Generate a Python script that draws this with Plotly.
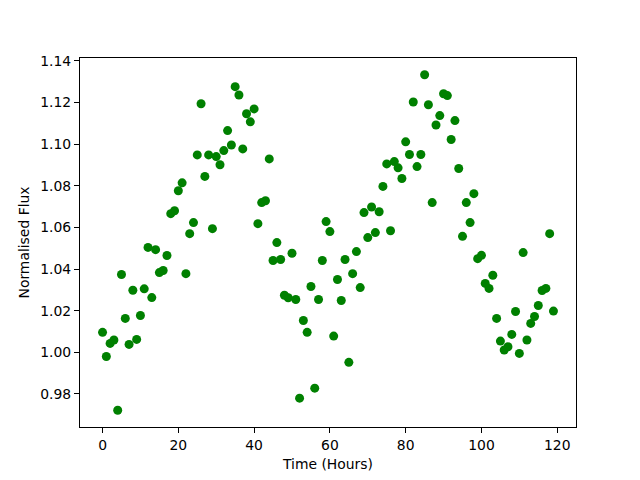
import plotly.graph_objects as go

time_hours = list(range(120))
flux = [
    1.0096, 0.9980, 1.0043, 1.0059, 0.9722, 1.0374, 1.0163, 1.0038, 1.0298, 1.0062,
    1.0177, 1.0305, 1.0504, 1.0263, 1.0493, 1.0383, 1.0393, 1.0465, 1.0666, 1.0680,
    1.0776, 1.0814, 1.0378, 1.0570, 1.0623, 1.0948, 1.1194, 1.0845, 1.0948, 1.0594,
    1.0940, 1.0901, 1.0969, 1.1065, 1.0996, 1.1276, 1.1236, 1.0977, 1.1146, 1.1107,
    1.1169, 1.0618, 1.0719, 1.0728, 1.0929, 1.0441, 1.0527, 1.0446, 1.0274, 1.0262,
    1.0476, 1.0254, 0.9780, 1.0153, 1.0096, 1.0316, 0.9828, 1.0254, 1.0441, 1.0628,
    1.0580, 1.0078, 1.0350, 1.0249, 1.0446, 0.9952, 1.0378, 1.0484, 1.0311, 1.0671,
    1.0551, 1.0698, 1.0575, 1.0675, 1.0797, 1.0905, 1.0584, 1.0916, 1.0886, 1.0835,
    1.1011, 1.0950, 1.1202, 1.0892, 1.0950, 1.1333, 1.1189, 1.0719, 1.1092, 1.1137,
    1.1242, 1.1233, 1.1022, 1.1113, 1.0883, 1.0557, 1.0719, 1.0623, 1.0762, 1.0450,
    1.0466, 1.0331, 1.0307, 1.0370, 1.0163, 1.0054, 1.0011, 1.0027, 1.0086, 1.0196,
    0.9995, 1.0479, 1.0059, 1.0139, 1.0172, 1.0225, 1.0297, 1.0307, 1.0570, 1.0198,
]

x_ticks = [0, 20, 40, 60, 80, 100, 120]
y_ticks = [0.98, 1.00, 1.02, 1.04, 1.06, 1.08, 1.10, 1.12, 1.14]

xmin, xmax = min(time_hours), max(time_hours)
ymin, ymax = min(flux), max(flux)
xm = 0.05 * (xmax - xmin)
ym = 0.05 * (ymax - ymin)

fig = go.Figure()
fig.add_trace(go.Scatter(
    x=time_hours, y=flux, mode="markers",
    marker=dict(color="#008000", size=9, line=dict(width=0)),
    showlegend=False,
))

font = dict(family="DejaVu Sans", size=13.9, color="black")
axis_common = dict(
    showgrid=False, zeroline=False, showline=True, linecolor="black", linewidth=1,
    mirror=True, ticks="outside", ticklen=5, tickwidth=1, tickcolor="black",
    tickfont=font,
)
fig.update_layout(
    width=640, height=480,
    margin=dict(l=72, r=72, t=50, b=61),
    paper_bgcolor="white", plot_bgcolor="white",
    font=font,
    xaxis=dict(range=[xmin - xm, xmax + xm], tickvals=x_ticks,
               ticktext=[str(v) for v in x_ticks],
               title=dict(text="Time (Hours)", font=font, standoff=7), **axis_common),
    yaxis=dict(range=[ymin - ym, ymax + ym], tickvals=y_ticks,
               ticktext=[f"{v:.2f}" for v in y_ticks],
               title=dict(text="Normalised Flux", font=font, standoff=7), **axis_common),
)
fig.write_html("out.html")
